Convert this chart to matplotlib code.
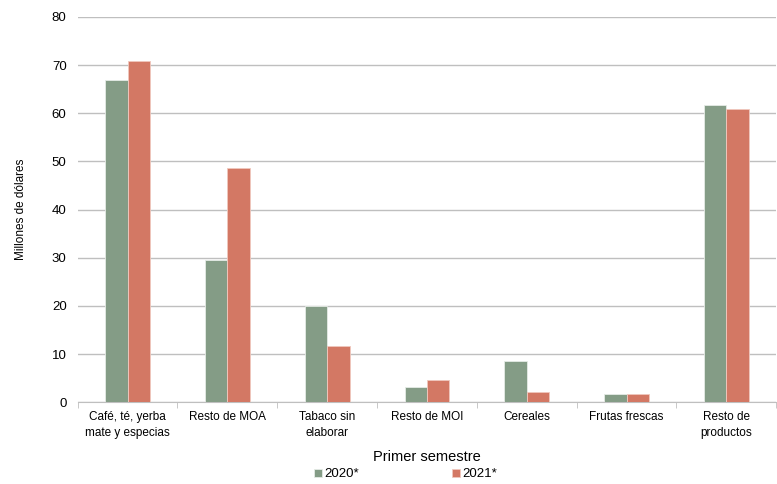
import numpy as np
import matplotlib
matplotlib.use('Agg')
import matplotlib.pyplot as plt

plt.rcParams['font.family'] = ['Liberation Sans', 'DejaVu Sans']

# datos
categorias = ['Café, té, yerba\nmate y especias', 'Resto de MOA', 'Tabaco sin\nelaborar',
              'Resto de MOI', 'Cereales', 'Frutas frescas', 'Resto de\nproductos']
valores_2020 = [66.9, 29.6, 20.0, 3.2, 8.5, 1.7, 61.8]
valores_2021 = [70.8, 48.6, 11.7, 4.6, 2.2, 1.7, 60.8]
series = ['2020*', '2021*']
colores = ['#849C86', '#D37864']

fig = plt.figure(figsize=(7.77, 4.84), dpi=100)
ax = fig.add_axes([0.100, 0.169, 0.899, 0.796])

x = np.arange(len(categorias))
w = 0.225
ax.bar(x - w/2, valores_2020, w, color=colores[0], edgecolor='#E6ECE6', linewidth=0.6, label=series[0], zorder=3)
ax.bar(x + w/2, valores_2021, w, color=colores[1], edgecolor='#F0C8BE', linewidth=0.6, label=series[1], zorder=3)

ax.set_xlim(-0.5, len(categorias) - 0.5)
ax.set_ylim(0, 80)
ax.set_yticks(np.arange(0, 81, 10))
ax.grid(axis='y', color='#BFBFBF', linewidth=1, zorder=0)

ax.set_xticks(x)
ax.set_xticklabels(categorias, fontsize=8.5, linespacing=1.5)
ax.tick_params(axis='x', length=0, pad=6)
ax.set_xticks(np.arange(-0.5, len(categorias)), minor=True)
ax.tick_params(axis='x', which='minor', length=4, color='#BFBFBF')
ax.tick_params(axis='y', length=0, labelsize=9.5, pad=8)

for s in ['top', 'right', 'left']:
    ax.spines[s].set_visible(False)
ax.spines['bottom'].set_color('#BFBFBF')

ax.set_ylabel('Millones de dólares', fontsize=8.5, labelpad=18)
ax.set_xlabel('Primer semestre', fontsize=10.5, labelpad=8)

fig.legend(loc='lower center', bbox_to_anchor=(0.522, -0.017), ncol=2, frameon=False,
           fontsize=9.5, handlelength=0.6, handleheight=0.6, handletextpad=0.2, columnspacing=7)

fig.savefig('out.png', dpi=100)
